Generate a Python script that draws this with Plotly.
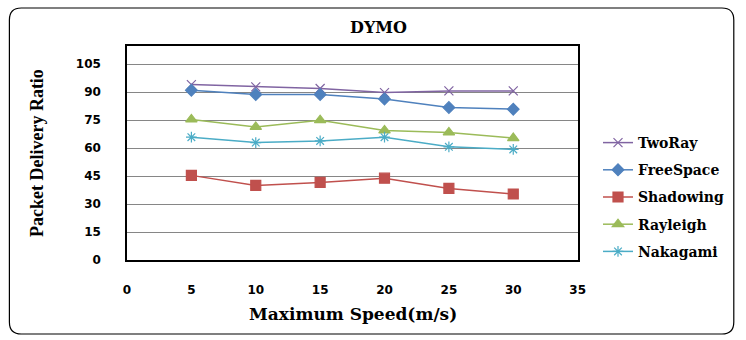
import plotly.graph_objects as go

speeds = [5, 10, 15, 20, 25, 30]
two_ray = [94.1, 92.9, 92.0, 89.8, 90.7, 90.7]
free_space = [91.1, 88.8, 88.8, 86.4, 81.8, 80.9]
shadowing = [45.4, 40.0, 41.6, 43.9, 38.4, 35.4]
rayleigh = [75.4, 71.4, 75.0, 69.5, 68.4, 65.4]
nakagami = [65.9, 63.0, 63.9, 65.9, 60.7, 59.3]

y_ticks = [0, 15, 30, 45, 60, 75, 90, 105]
x_ticks = [0, 5, 10, 15, 20, 25, 30, 35]

series = [
    ("TwoRay", two_ray, "#8064A2", "x-thin-open", 9),
    ("FreeSpace", free_space, "#4F81BD", "diamond", 9),
    ("Shadowing", shadowing, "#C0504D", "square", 10),
    ("Rayleigh", rayleigh, "#9BBB59", "triangle-up", 10),
    ("Nakagami", nakagami, "#4BACC6", "asterisk-open", 9),
]

fig = go.Figure()
for name, vals, color, sym, size in series:
    fig.add_trace(go.Scatter(
        x=speeds, y=vals, name=name, mode="lines+markers",
        legendgroup=name,
        line=dict(color=color, width=1.5),
        marker=dict(symbol=sym, size=size, color=color,
                    line=dict(color=color, width=1.2)),
    ))

W, H = 746, 340
L, R, T, B = 127, 163, 46, 80


def px(xp):
    return (xp - L) / (W - L - R)


def py(yp):
    return ((H - B) - yp) / (H - T - B)


fig.update_layout(
    width=W, height=H,
    margin=dict(l=L, r=R, t=T, b=B),
    paper_bgcolor="white", plot_bgcolor="white",
    showlegend=True,
    legend=dict(
        xref="container", yref="container",
        x=598 / W, y=1 - 127 / H, xanchor="left", yanchor="top",
        font=dict(family="DejaVu Serif", size=14, color="black", weight="bold"),
        tracegroupgap=6, bgcolor="rgba(0,0,0,0)",
    ),
    font=dict(family="DejaVu Sans", color="black"),
    xaxis=dict(
        range=[0, 35], tickvals=x_ticks, ticktext=[str(v) for v in x_ticks],
        showgrid=False, zeroline=False,
        showline=True, linecolor="black", linewidth=1.5, mirror=True,
        ticks="", ticklabelstandoff=18,
        tickfont=dict(family="DejaVu Sans", size=12, color="black", weight="bold"),
    ),
    yaxis=dict(
        range=[0, 114.8], tickvals=y_ticks, ticktext=[str(v) for v in y_ticks],
        showgrid=True, gridcolor="#868686", gridwidth=1, zeroline=False,
        showline=True, linecolor="black", linewidth=1.5, mirror=True,
        ticks="", ticklabelstandoff=22,
        tickfont=dict(family="DejaVu Sans", size=12, color="black", weight="bold"),
    ),
)

fig.add_annotation(
    text="DYMO", xref="paper", yref="paper",
    x=px(381), y=py(27),
    showarrow=False, yanchor="middle", xanchor="center",
    font=dict(family="DejaVu Serif", size=16, color="black", weight="bold"),
)
fig.add_annotation(
    text="Maximum Speed(m/s)", xref="paper", yref="paper",
    x=px(356), y=py(314),
    showarrow=False, yanchor="middle", xanchor="center",
    font=dict(family="DejaVu Serif", size=17, color="black", weight="bold"),
)
fig.add_annotation(
    text="Packet Delivery Ratio", xref="paper", yref="paper",
    x=px(36), y=py(153),
    showarrow=False, yanchor="middle", xanchor="center", textangle=-90,
    font=dict(family="Liberation Serif", size=18, color="black", weight="bold"),
)

x0, x1, y0, y1, r = 8, 741, 8, 334, 12
path = (f"M {px(x0 + r)},{py(y0)} L {px(x1 - r)},{py(y0)} "
        f"Q {px(x1)},{py(y0)} {px(x1)},{py(y0 + r)} "
        f"L {px(x1)},{py(y1 - r)} Q {px(x1)},{py(y1)} {px(x1 - r)},{py(y1)} "
        f"L {px(x0 + r)},{py(y1)} Q {px(x0)},{py(y1)} {px(x0)},{py(y1 - r)} "
        f"L {px(x0)},{py(y0 + r)} Q {px(x0)},{py(y0)} {px(x0 + r)},{py(y0)} Z")
fig.add_shape(type="path", path=path, xref="paper", yref="paper",
              line=dict(color="black", width=1.2), layer="below")

fig.write_html("out.html")
